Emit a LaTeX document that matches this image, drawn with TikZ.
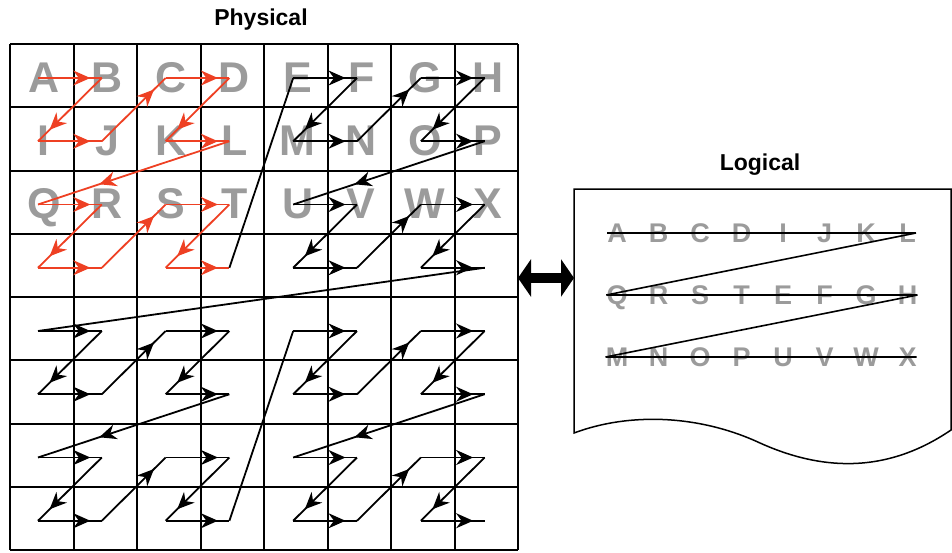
\documentclass[tikz,border=0pt]{standalone}
\usepackage{fontspec}
\setmainfont{Liberation Sans}
\usetikzlibrary{arrows.meta, decorations.markings}

\definecolor{zred}{RGB}{238,64,35}
\definecolor{letgray}{RGB}{155,155,155}

\tikzset{
  cell/.style={line width=2pt},
  big/.style={font=\fontsize{43}{43}\selectfont\bfseries, text=letgray, inner sep=0pt, text height=31pt, text depth=0pt},
  small/.style={font=\fontsize{27}{27}\selectfont\bfseries, text=letgray, inner sep=0pt, text height=19pt, text depth=0pt},
  title/.style={font=\fontsize{23}{23}\selectfont\bfseries, anchor=base},
  arrowat/.style={postaction={decorate}, decoration={markings, mark=at position #1 with {\arrow{Stealth[length=17pt, width=15pt, inset=5.5pt]}}}},
  link0/.style={},
  link1/.style={arrowat=0.82},
  link2/.style={arrowat=0.68},
  trail0/.style={color=black},
  trail1/.style={color=zred},
}

\begin{document}
\begin{tikzpicture}[x=1pt, y=-1pt]
    \useasboundingbox (0,0) rectangle (952,552);

    % Titles
    \node[title] (phys) at (261,25) {Physical};
    \node[title] (logi) at (760,170) {Logical};

    % Letters in the first three rows of the physical grid
    \foreach \ch [count=\k from 0] in {A,...,X} {
        \pgfmathtruncatemacro\col{mod(\k,8)}
        \pgfmathtruncatemacro\row{int(\k/8)}
        \node[big] (p\ch) at ({12+63.5*(\col+0.5)}, {45+63.25*(\row+0.5)}) {\ch};
    }

    % The 8x8 grid
    \foreach \i in {0,...,8} {
        \draw[cell] ({10+63.5*\i}, 44) -- ({10+63.5*\i}, 550);
        \draw[cell] (10, {44+63.25*\i}) -- (518, {44+63.25*\i});
    }

    % One point per cell, numbered in Z-order (bits of n interleaved)
    \foreach \n in {0,...,63} {
        \pgfmathtruncatemacro\cx{mod(\n,2)+2*mod(int(\n/4),2)+4*mod(int(\n/16),2)}
        \pgfmathtruncatemacro\cy{mod(int(\n/2),2)+2*mod(int(\n/8),2)+4*mod(int(\n/32),2)}
        \coordinate (z\n) at ({38+63.8*\cx}, {78+63.25*\cy});
    }

    % Walk the Z-order curve: red in the first quadrant, black after
    \foreach \n in {1,...,63} {
        \pgfmathtruncatemacro\m{\n-1}
        \pgfmathtruncatemacro\hot{\n<16 ? 1 : 0}
        \pgfmathtruncatemacro\kind{mod(\n,16)==0 ? 0 : (mod(\n,8)==0 ? 2 : 1)}
        \draw[line width=1.8pt, line join=miter, trail\hot, link\kind] (z\m) -- (z\n);
    }

    % Double arrow between the two views
    \coordinate (gridR) at (518,278);
    \coordinate (docL) at (574,278);
    \draw[line width=10pt, {Triangle[length=13pt, width=37pt]}-{Triangle[length=13pt, width=37pt]}] (gridR) -- (docL);

    % Document shape with a wavy bottom edge
    \draw[line width=1.5pt, line join=miter] (574,189) -- (951,189) -- (951,430)
        .. controls (885,475) and (820,470) .. (760,443)
        .. controls (700,415) and (630,412) .. (574,433) -- cycle;

    % Letters in logical order
    \foreach \ch [count=\k from 0] in {A,B,C,D,I,J,K,L,Q,R,S,T,E,F,G,H,M,N,O,P,U,V,W,X} {
        \pgfmathtruncatemacro\col{mod(\k,8)}
        \pgfmathtruncatemacro\row{int(\k/8)}
        \node[small] (l\ch) at ({617+41.5*\col}, {233+62*\row}) {\ch};
    }

    % Line running through the logical sequence
    \draw[line width=1.6pt] (lA.west) -- (lL.east) -- (lQ.west) -- (lH.east) -- (lM.west) -- (lX.east);
\end{tikzpicture}
\end{document}
